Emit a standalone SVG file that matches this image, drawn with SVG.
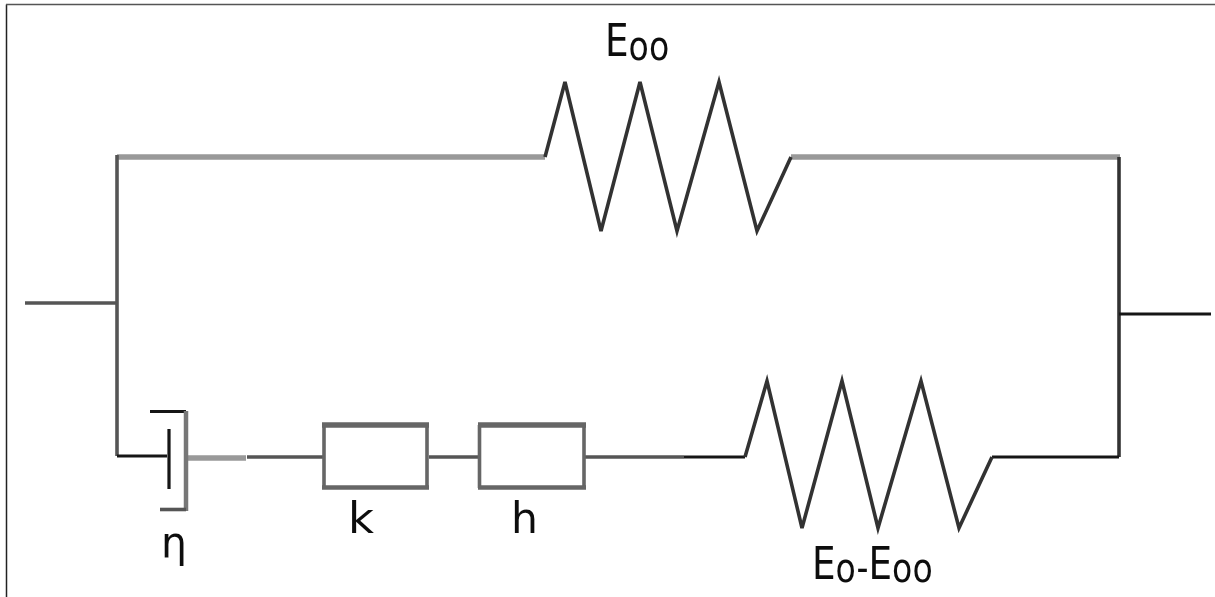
<svg xmlns="http://www.w3.org/2000/svg" width="1215" height="597" viewBox="0 0 1215 597">
<defs><filter id="soft" filterUnits="userSpaceOnUse" x="-100" y="-100" width="1500" height="800"><feGaussianBlur stdDeviation="0.55"/></filter></defs>
<style>
.w{fill:none;stroke:#151515;stroke-width:3.2;stroke-linejoin:miter}
.z{fill:none;stroke:#333;stroke-width:3.6;stroke-linejoin:miter}
.g{fill:none;stroke:#999;stroke-width:5.5}
.d{fill:none;stroke:#777;stroke-width:4.5}
.m{fill:none;stroke:#555;stroke-width:3.6}
.b{fill:none;stroke:#666}
.t{font-family:"DejaVu Sans","Liberation Sans",sans-serif;fill:#111;filter:url(#soft)}
.s{font-size:40px}
.all{filter:url(#soft)}
</style>
<rect width="1215" height="597" fill="#fff"/>
<path d="M6.500 597V4.500" fill="none" stroke="#222" stroke-width="1.500"/>
<path d="M6 4.500H1215" fill="none" stroke="#555" stroke-width="1.500"/>
<g id="connectors" class="all">
<path class="m" d="M25 303H117"/>
<path class="g" d="M117 157H545"/>
<path class="g" d="M791 157H1120"/>
<path class="m" d="M117 155V456"/>
<path class="z" d="M1119 157V457"/>
<path class="w" d="M1119 314H1211"/>
<path class="w" d="M117 456H167"/>
<path class="g" d="M187 458H246"/>
<path class="m" d="M247 457H323"/>
<path class="m" d="M429 457H479"/>
<path class="m" d="M585 457H684"/>
<path class="w" d="M684 457H745"/>
<path class="w" d="M992 457H1119"/>
</g>
<g id="spring-eoo">
<path class="z all" d="M545 157L565 82L601 231L640 82L677 231L719 82L757 231L791 157"/>
<text class="t" transform="translate(605 56) scale(.83 1)" font-size="45">E<tspan class="s" dy="4">oo</tspan></text>
</g>
<g id="dashpot">
<path class="w all" d="M169 429V489"/>
<path class="w all" d="M150 411.500H186"/>
<path class="d all" d="M186 411V511"/>
<path class="m all" d="M160 509.500H186"/>
<text class="t" x="161" y="557" font-size="43" textLength="26" lengthAdjust="spacingAndGlyphs">η</text>
</g>
<g id="box-k">
<path class="b all" stroke-width="3.600" d="M324 425V488M427 425V488"/>
<path class="b all" stroke-width="5.500" d="M322 425H429"/>
<path class="b all" stroke-width="4.500" d="M322 487.500H429"/>
<text class="t" x="348" y="533" font-size="43" textLength="26" lengthAdjust="spacingAndGlyphs">k</text>
</g>
<g id="box-h">
<path class="b all" stroke-width="3.600" d="M479.500 425V488M584 425V488"/>
<path class="b all" stroke-width="5.500" d="M478 425H586"/>
<path class="b all" stroke-width="4.500" d="M478 487.500H586"/>
<text class="t" x="511" y="533" font-size="43" textLength="27" lengthAdjust="spacingAndGlyphs">h</text>
</g>
<g id="spring-e0">
<path class="z all" d="M745 457L767 381L802 528L842 381L878 528L921 381L959 528L992 457"/>
<text class="t" transform="translate(812 579) scale(.83 1)" font-size="45">E<tspan class="s" dy="3">o-</tspan><tspan dy="-3">E</tspan><tspan class="s" dy="3">oo</tspan></text>
</g>
</svg>
